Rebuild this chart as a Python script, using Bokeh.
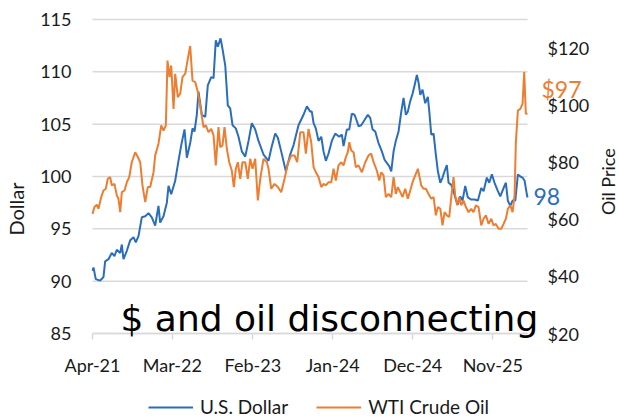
import numpy as np
import pandas as pd
from bokeh.plotting import figure
from bokeh.models import (Range1d, LinearAxis, FixedTicker, DatetimeTickFormatter,
                          Legend, LegendItem, Label, PrintfTickFormatter)
from bokeh.embed import file_html
from bokeh.resources import INLINE

# ---- data (x = months since 1 Apr 2021) ----
usd_months = [0.0, 0.14, 0.45, 1.05, 1.51, 1.74, 2.2, 2.65, 3.02, 3.34,
              3.81, 4.03, 4.26, 4.72, 5.18, 5.64, 5.95, 6.32, 6.78, 7.25,
              7.7, 8.15, 8.62, 9.07, 9.3, 9.76, 10.22, 10.45, 10.82, 11.37,
              11.82, 12.2, 12.65, 12.97, 13.43, 13.75, 14.02, 14.34, 14.57, 15.03,
              15.5, 15.85, 16.32, 16.64, 16.95, 17.23, 17.6, 17.87, 18.25, 18.6,
              18.93, 19.25, 19.7, 20.07, 20.53, 21.0, 21.45, 21.9, 22.37, 22.82,
              23.51, 24.2, 24.65, 25.12, 25.48, 25.94, 26.58, 27.18, 27.64, 28.32,
              29.01, 29.47, 29.93, 30.15, 30.39, 30.7, 31.07, 31.45, 31.76, 32.08,
              32.45, 32.9, 33.37, 33.92, 34.28, 34.51, 34.97, 35.3, 35.65, 36.02,
              36.34, 36.57, 36.94, 37.4, 37.85, 38.18, 38.5, 38.87, 39.32, 39.78,
              40.15, 40.46, 40.79, 41.07, 41.39, 41.7, 42.07, 42.45, 42.76, 43.08,
              43.35, 43.68, 44.0, 44.27, 44.59, 44.82, 45.06, 45.37, 45.74, 46.1,
              46.3, 46.57, 46.89, 47.2, 47.48, 47.81, 48.12, 48.4, 48.71, 48.95,
              49.32, 49.63, 49.95, 50.22, 50.56, 50.87, 51.24, 51.6, 52.07, 52.52,
              52.98, 53.44, 53.76, 54.21, 54.54, 54.9, 55.27, 55.73, 56.06, 56.51,
              56.83, 57.1, 57.43, 57.75, 58.12, 58.48, 58.81, 59.12, 59.4, 59.71,
              59.8]
usd_values = [91.0, 91.3, 90.2, 90.05, 90.4, 91.9, 92.1, 92.7, 92.4, 93.0,
              92.7, 93.5, 92.1, 92.9, 93.9, 94.2, 93.7, 94.3, 96.1, 96.2,
              96.5, 96.1, 95.3, 97.2, 95.6, 96.2, 97.5, 99.1, 98.3, 99.6,
              101.5, 103.0, 104.5, 101.8, 103.2, 104.6, 104.3, 105.9, 108.1, 105.9,
              105.7, 108.7, 109.5, 109.4, 113.0, 112.4, 113.2, 112.2, 110.6, 106.8,
              106.5, 104.9, 104.6, 103.8, 102.4, 101.9, 103.4, 105.1, 104.5, 103.4,
              102.1, 101.5, 102.9, 104.1, 103.7, 102.4, 100.5, 102.1, 103.0, 104.9,
              105.9, 106.7, 106.2, 106.2, 105.1, 104.6, 103.4, 103.8, 102.4, 101.5,
              102.2, 103.4, 104.1, 103.8, 104.0, 102.9, 104.5, 104.5, 106.0, 105.9,
              105.3, 104.8, 104.9, 105.4, 105.9, 105.6, 104.5, 104.3, 103.2, 102.4,
              101.6, 101.3, 101.0, 100.5, 102.4, 103.4, 104.3, 106.2, 107.5, 105.9,
              106.2, 107.2, 107.9, 108.7, 109.7, 109.0, 107.8, 108.3, 107.0, 107.6,
              106.2, 104.0, 104.1, 102.1, 100.5, 99.4, 99.9, 100.5, 101.1, 99.4,
              99.2, 98.6, 97.8, 97.3, 98.1, 97.7, 99.1, 98.0, 97.8, 97.8,
              97.7, 98.9, 98.6, 99.9, 99.4, 100.2, 99.4, 98.6, 98.1, 98.9,
              99.4, 97.7, 97.2, 97.7, 97.7, 100.2, 100.0, 99.9, 99.6, 98.3,
              98.0]

oil_months = [0.0, 0.27, 0.59, 0.82, 1.2, 1.51, 1.83, 2.1, 2.43, 2.65,
              3.02, 3.34, 3.57, 3.81, 4.03, 4.4, 4.72, 5.05, 5.4, 5.87,
              6.23, 6.56, 6.87, 7.25, 7.6, 7.93, 8.39, 8.62, 9.07, 9.45,
              9.76, 10.08, 10.31, 10.59, 10.82, 11.14, 11.37, 11.73, 12.06, 12.37,
              12.75, 13.1, 13.43, 13.75, 14.12, 14.48, 14.95, 15.26, 15.58, 15.95,
              16.32, 16.64, 16.95, 17.32, 17.56, 17.87, 18.15, 18.47, 18.8, 19.15,
              19.43, 19.7, 19.98, 20.31, 20.62, 21.0, 21.35, 21.68, 22.0, 22.37,
              22.73, 23.06, 23.51, 23.97, 24.2, 24.57, 25.02, 25.48, 25.94, 26.4,
              26.85, 27.32, 27.77, 28.14, 28.56, 29.01, 29.33, 29.7, 30.07, 30.39,
              30.7, 31.07, 31.45, 31.76, 32.08, 32.45, 32.82, 33.14, 33.45, 33.82,
              34.2, 34.51, 34.83, 35.1, 35.3, 35.57, 35.89, 36.2, 36.57, 37.03,
              37.5, 37.95, 38.32, 38.64, 39.09, 39.42, 39.7, 40.01, 40.33, 40.7,
              41.07, 41.39, 41.7, 41.98, 42.31, 42.62, 42.99, 43.35, 43.68, 44.0,
              44.37, 44.73, 45.19, 45.51, 45.83, 46.2, 46.57, 46.89, 47.2, 47.48,
              47.81, 48.12, 48.4, 48.71, 49.04, 49.32, 49.63, 49.86, 50.14, 50.41,
              50.69, 51.01, 51.33, 51.7, 52.07, 52.38, 52.7, 53.07, 53.44, 53.76,
              54.08, 54.45, 54.82, 55.13, 55.45, 55.82, 56.19, 56.51, 56.83, 57.1,
              57.43, 57.75, 58.02, 58.2, 58.48, 58.81, 59.12, 59.35, 59.57, 59.8]
oil_values = [61.9, 64.3, 65.1, 63.7, 67.8, 70.1, 70.7, 74.2, 74.8, 71.9,
              72.4, 68.4, 67.2, 62.5, 69.5, 70.1, 73.0, 74.8, 80.0, 83.5,
              81.8, 80.0, 71.9, 66.0, 71.3, 71.3, 76.5, 82.4, 86.5, 92.9,
              91.1, 92.9, 115.6, 109.8, 113.9, 98.7, 111.0, 102.8, 104.0, 109.8,
              111.0, 116.2, 120.7, 108.6, 108.1, 104.6, 97.5, 92.3, 92.9, 90.5,
              91.7, 89.4, 78.9, 92.3, 85.3, 85.9, 92.3, 84.7, 80.0, 77.1,
              71.3, 77.7, 80.0, 74.2, 80.0, 80.0, 74.2, 81.2, 77.7, 81.2,
              66.6, 74.2, 81.2, 80.0, 77.7, 70.7, 72.4, 71.3, 69.5, 74.2,
              79.5, 82.4, 82.4, 80.0, 90.5, 90.5, 83.0, 91.7, 87.0, 78.3,
              76.5, 74.8, 71.3, 72.4, 71.9, 73.0, 73.0, 77.7, 73.6, 78.9,
              80.0, 78.9, 81.8, 83.5, 87.0, 84.1, 83.5, 78.3, 78.9, 76.5,
              80.0, 82.4, 83.0, 80.0, 77.1, 73.6, 76.5, 75.4, 67.8, 68.9,
              67.8, 74.8, 68.9, 71.3, 69.5, 67.8, 70.7, 67.2, 70.1, 73.0,
              75.4, 77.7, 71.9, 70.7, 70.7, 68.9, 67.2, 67.8, 61.4, 64.3,
              63.7, 57.9, 62.5, 61.4, 60.8, 67.8, 74.8, 68.4, 64.9, 67.8,
              64.9, 66.6, 64.3, 62.5, 63.7, 62.5, 64.9, 64.3, 57.9, 60.2,
              61.4, 58.4, 60.2, 57.9, 58.4, 56.7, 56.7, 58.4, 60.2, 63.7,
              64.9, 62.5, 68.4, 87.0, 98.1, 98.7, 100.5, 111.6, 97.0, 97.0]

tick_labels = ["Apr-21", "Mar-22", "Feb-23", "Jan-24", "Dec-24", "Nov-25"]
dollar_ticks = [85, 90, 95, 100, 105, 110, 115]
oil_ticks = [20, 40, 60, 80, 100, 120]
series_names = ["U.S. Dollar", "WTI Crude Oil"]
axis_titles = ["Dollar", "Oil Price"]
last_usd_label = "98"
last_oil_label = "$97"
annotation_text = "$ and oil disconnecting"

# ---- layout (pixels) ----
W, H = 619, 417
PLOT_L, PLOT_R, PLOT_T, PLOT_B = 92, 527, 19, 333
X_END = 59.8                      # months shown on the axis
USD_LO, USD_HI = 85, 115
OIL_LO, OIL_HI = 20, 130

px_per_month = (PLOT_R - PLOT_L) / X_END
px_per_usd = (PLOT_B - PLOT_T) / (USD_HI - USD_LO)
px_per_oil = (PLOT_B - PLOT_T) / (OIL_HI - OIL_LO)

START = pd.Timestamp("2021-04-01")
DAYS_PER_MONTH = 30.4375


def month_to_ts(m):
    return START + pd.Timedelta(days=float(m) * DAYS_PER_MONTH)


def month_to_ms(m):
    return month_to_ts(m).timestamp() * 1000.0


def px_to_ms(px):
    return month_to_ms((px - PLOT_L) / px_per_month)


usd_dates = [month_to_ts(m) for m in usd_months]
oil_dates = [month_to_ts(m) for m in oil_months]
tick_ms = [pd.to_datetime(t, format="%b-%y").timestamp() * 1000.0 for t in tick_labels]

BLUE = "#2a6ebb"
ORANGE = "#ed7d31"
GRID = "#d9d9d9"
TXT = "#1a1a1a"
FONT = "Lato"

x_range = Range1d(month_to_ts(-PLOT_L / px_per_month),
                  month_to_ts((W - PLOT_L) / px_per_month))
y_range = Range1d(USD_LO - (H - PLOT_B) / px_per_usd, USD_HI + PLOT_T / px_per_usd)
oil_range = Range1d(OIL_LO - (H - PLOT_B) / px_per_oil, OIL_HI + PLOT_T / px_per_oil)

p = figure(width=W, height=H, x_axis_type="datetime",
           x_range=x_range, y_range=y_range,
           x_axis_location=None, y_axis_location=None,
           output_backend="svg", toolbar_location=None,
           min_border=0, min_border_left=0, min_border_right=0,
           min_border_top=0, min_border_bottom=0)
p.outline_line_color = None
p.background_fill_color = "white"
p.border_fill_color = "white"
p.extra_y_ranges = {"oil": oil_range}

# horizontal grid lines (only across the data area)
p.xgrid.visible = False
p.ygrid.visible = False
x0_ms, x1_ms = month_to_ms(0), month_to_ms(X_END)
p.segment(x0=[x0_ms] * len(dollar_ticks), x1=[x1_ms] * len(dollar_ticks),
          y0=dollar_ticks, y1=dollar_ticks, line_color=GRID, line_width=1.5)

# x axis (at Dollar = 85)
xa = LinearAxis(fixed_location=USD_LO, bounds=(x0_ms, x1_ms))
xa.ticker = FixedTicker(ticks=tick_ms)
xa.formatter = DatetimeTickFormatter(days="%b-%y", months="%b-%y", years="%b-%y")
xa.axis_line_color = GRID
xa.axis_line_width = 1.5
xa.major_tick_line_color = GRID
xa.major_tick_line_width = 1.5
xa.major_tick_out = 6
xa.major_tick_in = 0
xa.minor_tick_line_color = None
xa.major_label_standoff = 14
xa.major_label_text_font = FONT
xa.major_label_text_font_size = "18px"
xa.major_label_text_color = TXT
p.add_layout(xa, "below")

# left axis (Dollar)
ya = LinearAxis(fixed_location=x0_ms, ticker=FixedTicker(ticks=dollar_ticks))
ya.axis_line_color = None
ya.major_tick_line_color = None
ya.major_tick_out = 0
ya.major_tick_in = 0
ya.minor_tick_line_color = None
ya.major_label_standoff = 21
ya.major_label_text_font = FONT
ya.major_label_text_font_size = "18px"
ya.major_label_text_color = TXT
ya.axis_label = axis_titles[0]
ya.axis_label_text_font = FONT
ya.axis_label_text_font_size = "20px"
ya.axis_label_text_font_style = "normal"
ya.axis_label_text_color = TXT
ya.axis_label_standoff = 9
p.add_layout(ya, "left")

# right axis (Oil price)
ra = LinearAxis(y_range_name="oil", fixed_location=x1_ms,
                ticker=FixedTicker(ticks=oil_ticks),
                formatter=PrintfTickFormatter(format="$%d"))
ra.axis_line_color = None
ra.major_tick_line_color = None
ra.major_tick_out = 0
ra.major_tick_in = 0
ra.minor_tick_line_color = None
ra.major_label_standoff = 20
ra.major_label_text_font = FONT
ra.major_label_text_font_size = "18px"
ra.major_label_text_color = TXT
p.add_layout(ra, "right")

# right axis title
p.add_layout(Label(x=px_to_ms(607), y=73.2, y_range_name="oil",
                   text=axis_titles[1], angle=np.pi / 2, text_color=TXT,
                   text_font=FONT, text_font_size="18px",
                   text_align="center", text_baseline="middle"))

# lines
r_usd = p.line(x=usd_dates, y=usd_values, line_color=BLUE, line_width=2)
r_oil = p.line(x=oil_dates, y=oil_values, line_color=ORANGE, line_width=2,
               y_range_name="oil")

# end labels
p.add_layout(Label(x=px_to_ms(533), y=98.1,
                   text=last_usd_label, text_color=BLUE, text_font=FONT,
                   text_font_size="23px", text_baseline="middle", text_align="left"))
p.add_layout(Label(x=px_to_ms(541), y=105.8,
                   y_range_name="oil", text=last_oil_label, text_color=ORANGE,
                   text_font=FONT, text_font_size="23px",
                   text_baseline="middle", text_align="left"))

# annotation
p.add_layout(Label(x=px_to_ms(120), y=86.43,
                   text=annotation_text, text_color="black",
                   text_font="DejaVu Sans", text_font_size="36px",
                   text_baseline="alphabetic", text_align="left"))

# legend at the bottom
legend = Legend(items=[LegendItem(label=series_names[0], renderers=[r_usd]),
                       LegendItem(label=series_names[1], renderers=[r_oil])],
                location=(148, -1), orientation="horizontal",
                glyph_width=45, glyph_height=20, label_height=20,
                label_standoff=7, spacing=28, padding=0, margin=0,
                label_text_font=FONT, label_text_font_size="19px",
                label_text_color=TXT,
                border_line_color=None, background_fill_alpha=0)
p.add_layout(legend)

open("out.html", "w").write(file_html(p, INLINE))
